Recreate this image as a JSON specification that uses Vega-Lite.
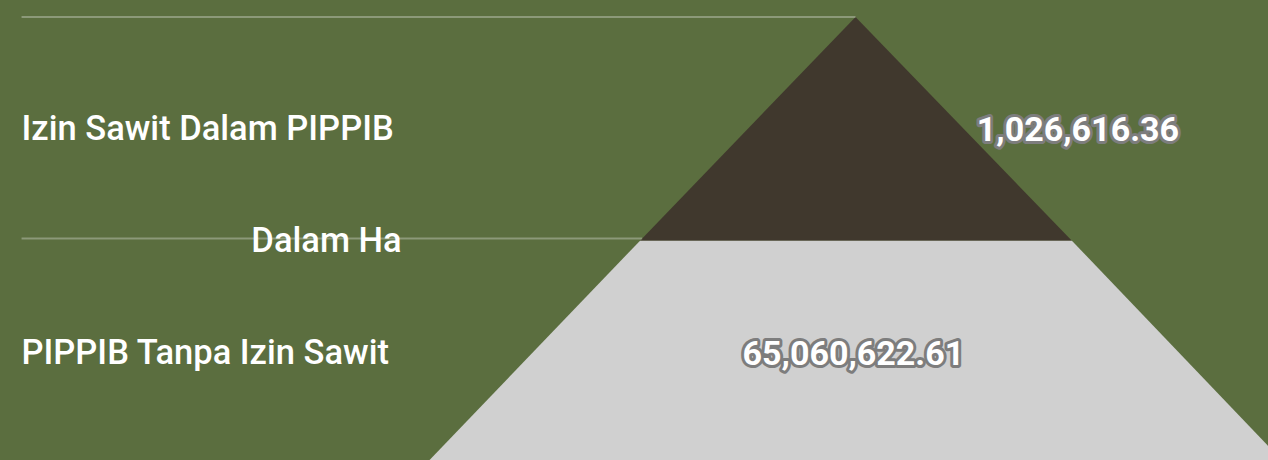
{
  "$schema": "https://vega.github.io/schema/vega-lite/v6.json",
  "width": 1268,
  "height": 460,
  "autosize": {"type": "fit", "contains": "padding"},
  "padding": 0,
  "background": "#5b6e3f",
  "config": {"view": {"stroke": null}, "font": "Roboto"},
  "datasets": {
    "shape": [
      {"segment": "Izin Sawit Dalam PIPPIB", "depth": 0, "left": 0, "right": 0},
      {"segment": "Izin Sawit Dalam PIPPIB", "depth": 1.003, "left": -1.0, "right": 1.004},
      {"segment": "PIPPIB Tanpa Izin Sawit", "depth": 1.003, "left": -1.0, "right": 1.004},
      {"segment": "PIPPIB Tanpa Izin Sawit", "depth": 2.0, "left": -1.99, "right": 1.99}
    ],
    "connectors": [
      {"depth": 0, "from": -3.87, "to": 0},
      {"depth": 0.993, "from": -3.87, "to": -0.99}
    ],
    "points": [
      {"segment": "Izin Sawit Dalam PIPPIB", "value": 1026616.36, "depth": 0.5, "labelPos": -3.87, "valuePos": 1.032},
      {"segment": "PIPPIB Tanpa Izin Sawit", "value": 65060622.61, "depth": 1.5, "labelPos": -3.87, "valuePos": -0.01}
    ],
    "unit": [
      {"text": "Dalam Ha", "depth": 1.0, "pos": -2.455}
    ]
  },
  "encoding": {
    "y": {"field": "depth", "type": "quantitative", "axis": null,
          "scale": {"domain": [-0.0762, 1.9865], "reverse": true, "nice": false, "zero": false}}
  },
  "layer": [
    {
      "data": {"name": "shape"},
      "mark": {"type": "area", "orient": "horizontal", "interpolate": "linear", "clip": true},
      "encoding": {
        "x": {"field": "left", "type": "quantitative", "axis": null,
              "scale": {"domain": [-3.970, 1.914], "nice": false, "zero": false}},
        "x2": {"field": "right"},
        "color": {"field": "segment", "type": "nominal", "legend": null,
                  "scale": {"domain": ["Izin Sawit Dalam PIPPIB", "PIPPIB Tanpa Izin Sawit"], "range": ["#40382d", "#d0d0d0"]}}
      }
    },
    {
      "data": {"name": "connectors"},
      "mark": {"type": "rule", "color": "#ffffff", "opacity": 0.3, "strokeWidth": 2},
      "encoding": {
        "x": {"field": "from", "type": "quantitative"},
        "x2": {"field": "to"}
      }
    },
    {
      "data": {"name": "points"},
      "mark": {"type": "text", "align": "left", "baseline": "middle", "dy": 2, "fontSize": 34.5, "fontWeight": 500, "color": "#ffffff"},
      "encoding": {
        "x": {"field": "labelPos", "type": "quantitative"},
        "text": {"field": "segment"}
      }
    },
    {
      "data": {"name": "unit"},
      "mark": {"type": "text", "align": "center", "baseline": "middle", "dy": 2, "fontSize": 34.5, "fontWeight": 500, "color": "#ffffff"},
      "encoding": {
        "x": {"field": "pos", "type": "quantitative"},
        "text": {"field": "text"}
      }
    },
    {
      "data": {"name": "points"},
      "mark": {"type": "text", "align": "center", "baseline": "middle", "dy": 3, "fontSize": 34, "fontWeight": "bold", "fill": "#ffffff", "stroke": "#7d7d7d", "strokeWidth": 6, "strokeJoin": "round"},
      "encoding": {
        "x": {"field": "valuePos", "type": "quantitative"},
        "text": {"field": "value", "type": "quantitative", "format": ",.2f"}
      }
    },
    {
      "data": {"name": "points"},
      "mark": {"type": "text", "align": "center", "baseline": "middle", "dy": 3, "fontSize": 34, "fontWeight": "bold", "fill": "#ffffff"},
      "encoding": {
        "x": {"field": "valuePos", "type": "quantitative"},
        "text": {"field": "value", "type": "quantitative", "format": ",.2f"}
      }
    }
  ]
}
